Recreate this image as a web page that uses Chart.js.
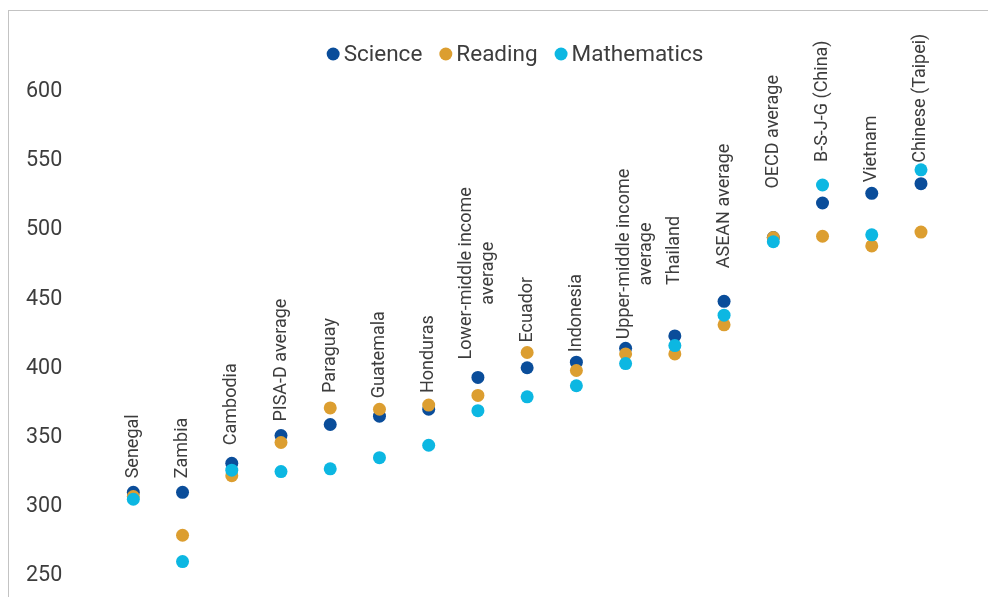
<!DOCTYPE html>
<html>
<head>
<meta charset="utf-8">
<script src="https://cdn.jsdelivr.net/npm/chart.js@4.4.1/dist/chart.umd.min.js"></script>
<style>
    html, body { margin: 0; padding: 0; background: #fff; }
    #wrap { position: relative; width: 988px; height: 597px; overflow: hidden; }
    #frame {
        position: absolute; left: 8px; top: 10px; width: 1200px; height: 800px;
        border-left: 1px solid #c3c3c3; border-top: 1px solid #c3c3c3;
    }
    #scores { position: absolute; left: 0; top: 0; }
</style>
</head>
<body>
<div id="wrap">
    <div id="frame"></div>
    <canvas id="scores" width="988" height="597"></canvas>
</div>
<script>
const countries = [
    "Senegal", "Zambia", "Cambodia", "PISA-D average", "Paraguay", "Guatemala",
    "Honduras", "Lower-middle income\naverage", "Ecuador", "Indonesia",
    "Upper-middle income\naverage", "Thailand", "ASEAN average", "OECD average",
    "B-S-J-G (China)", "Vietnam", "Chinese (Taipei)"
];
const science = [309, 309, 330, 350, 358, 364, 369, 392, 399, 403, 413, 422, 447, 493, 518, 525, 532];
const reading = [306, 278, 321, 345, 370, 369, 372, 379, 410, 397, 409, 409, 430, 493, 494, 487, 497];
const maths = [304, 259, 325, 324, 326, 334, 343, 368, 378, 386, 402, 415, 437, 490, 531, 495, 542];
const yTicks = [250, 300, 350, 400, 450, 500, 550, 600];

const textColor = "#3d3d3d";
const fontFamily = "Roboto, 'Liberation Sans', sans-serif";

// how far each country name sits above its highest marker (px), and sideways nudges
const labelLift = [14, 14, 18, 14, 15, 11, 12, 18, 10, 10, 9, 51, 33, 49, 23, 11, 7];
const labelShift = [0, 0, 0, 0, 0, 0, 0, 0, 0, 0, 10, 0, 0, 0, 0, 0, 0];

const categoryLabels = {
    id: "categoryLabels",
    afterDatasetsDraw(chart) {
        const { ctx, scales: { x, y } } = chart;
        ctx.save();
        ctx.fillStyle = textColor;
        ctx.font = "18px " + fontFamily;
        ctx.textBaseline = "middle";
        countries.forEach((name, i) => {
            const top = Math.min(...chart.data.datasets.map(ds => y.getPixelForValue(ds.data[i])));
            const px = x.getPixelForValue(i) + labelShift[i];
            const lines = name.split("\n");
            const widths = lines.map(l => ctx.measureText(l).width);
            const longest = Math.max(...widths);
            const lineH = 22;
            ctx.save();
            ctx.translate(px, top - labelLift[i]);
            ctx.rotate(-Math.PI / 2);
            lines.forEach((l, k) => {
                const off = (k - (lines.length - 1) / 2) * lineH;
                ctx.fillText(l, (longest - widths[k]) / 2, off);
            });
            ctx.restore();
        });
        ctx.restore();
    }
};

// legend drawn by hand so the dot sits tight against its text
const dotLegend = {
    id: "dotLegend",
    afterDraw(chart) {
        const { ctx } = chart;
        const centerX = 515, midY = 54, r = 6.5, gap = 4, spacing = 17;
        ctx.save();
        ctx.font = "22.5px " + fontFamily;
        ctx.textBaseline = "middle";
        const items = [...chart.data.datasets].sort((a, b) => a.legendIndex - b.legendIndex);
        const widths = items.map(ds => 2 * r + gap + ctx.measureText(ds.label).width);
        const total = widths.reduce((s, w) => s + w, 0) + spacing * (items.length - 1);
        let cx = centerX - total / 2;
        items.forEach((ds, k) => {
            ctx.fillStyle = ds.backgroundColor;
            ctx.beginPath();
            ctx.arc(cx + r, midY, r, 0, Math.PI * 2);
            ctx.fill();
            ctx.fillStyle = textColor;
            ctx.fillText(ds.label, cx + 2 * r + gap, midY + 1);
            cx += widths[k] + spacing;
        });
        ctx.restore();
    }
};

const point = color => ({
    backgroundColor: color,
    borderColor: color,
    borderWidth: 0,
    pointRadius: 6.5,
    pointHoverRadius: 6.5,
    showLine: false,
    clip: false,
});

new Chart(document.getElementById("scores"), {
    type: "line",
    data: {
        labels: countries,
        datasets: [
            { label: "Science", data: science, order: 2, legendIndex: 0, ...point("#0a4d9a") },
            { label: "Reading", data: reading, order: 1, legendIndex: 1, ...point("#dc9e30") },
            { label: "Mathematics", data: maths, order: 0, legendIndex: 2, ...point("#0cb7e2") },
        ],
    },
    options: {
        responsive: false,
        animation: false,
        layout: { padding: { left: 26, right: 42.4, top: 89.5, bottom: 23 } },
        plugins: {
            legend: { display: false },
            tooltip: { enabled: false },
        },
        scales: {
            x: { type: "category", offset: true, display: false },
            y: {
                min: 250,
                max: 600,
                afterBuildTicks: axis => { axis.ticks = yTicks.map(v => ({ value: v })); },
                afterFit: axis => { axis.width = 82.7; },
                grid: { display: false },
                border: { display: false },
                ticks: {
                    crossAlign: "far",
                    padding: 0,
                    labelOffset: 2,
                    color: textColor,
                    font: { family: fontFamily, size: 21.5 },
                },
            },
        },
    },
    plugins: [categoryLabels, dotLegend],
});
</script>
</body>
</html>
